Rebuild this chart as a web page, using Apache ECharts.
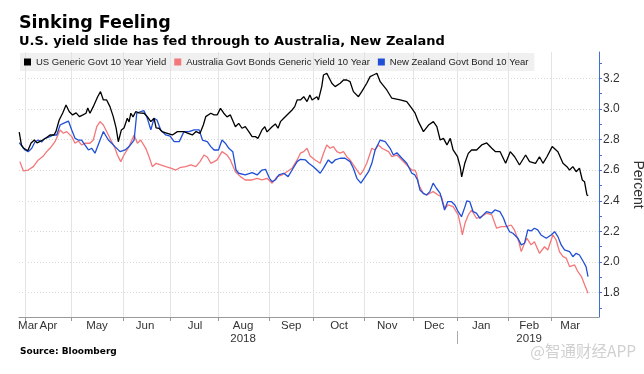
<!DOCTYPE html>
<html><head><meta charset="utf-8">
<script src="https://cdn.jsdelivr.net/npm/echarts@6/dist/echarts.min.js"></script>
<style>html,body{margin:0;padding:0;background:#fff}#c{width:644px;height:374px}</style>
</head><body><div id="c"></div>
<script>
// x positions are business-day indices (0 = Mon 2 Apr 2018)
const monthStarts = [0, 21, 44.4, 65.8, 87.6, 110.8, 130.9, 154.1, 176.4, 196.5, 219.5, 239.3];
const monthLabelPos = [1.1, 10.4, 32.5, 54.4, 77.1, 99, 120.9, 142.7, 164.6, 186, 207.4, 229.2, 247.9];
const monthNames = ['Mar','Apr','May','Jun','Jul','Aug','Sep','Oct','Nov','Dec','Jan','Feb','Mar'];
const yearLabelPos = [99, 229.2];
const yearNames = ['2018', '2019'];
const yearBreak = [196.5];
const yLabels = [1.8, 2.0, 2.2, 2.4, 2.6, 2.8, 3.0, 3.2];
const yTicks = [1.7, 1.8, 1.9, 2.0, 2.1, 2.2, 2.3, 2.4, 2.5, 2.6, 2.7, 2.8, 2.9, 3.0, 3.1, 3.2, 3.3];

const seriesNames = ['US Generic Govt 10 Year Yield', 'Australia Govt Bonds Generic Yield 10 Year', 'New Zealand Govt Bond 10 Year'];

const usDay = [-2.9,-1.9,-1.0,1.0,2.5,4.0,5.2,7.0,9.3,11.1,12.9,13.8,15.3,16.9,18.4,19.9,21.4,23.0,24.5,26.1,27.5,28.3,29.3,30.8,32.8,34.1,35.4,36.9,38.4,39.9,41.2,42.2,43.6,44.8,46.3,47.1,47.9,48.9,50.1,51.6,53.9,55.4,57.0,58.5,59.4,60.7,62.1,64.5,66.8,69.1,72.1,74.0,75.9,77.6,79.4,80.9,82.0,84.3,85.8,87.2,88.7,90.2,91.7,93.2,95.5,97.0,98.5,100.0,101.6,103.1,104.6,105.8,107.6,108.9,109.9,112.2,113.7,114.9,116.0,117.5,119.8,121.3,122.5,123.6,125.1,126.6,128.1,129.4,130.4,132.6,133.3,134.8,135.6,137.1,139.4,140.9,143.2,144.7,146.2,147.7,149.2,151.5,153.0,155.3,156.8,158.3,159.9,161.4,164.4,166.7,170.5,173.5,175.8,177.3,178.8,181.1,183.4,185.6,187.2,188.7,190.2,191.8,193.3,194.6,196.6,197.8,198.5,199.9,201.5,203.0,203.9,205.3,207.6,209.9,212.2,213.9,216.0,218.5,220.6,222.6,224.8,227.6,229.4,232.1,233.9,235.5,237.3,239.7,242.3,244.6,246.4,247.6,249.1,250.6,252.1,253.4,254.4,255.5,256.1];
const usYield = [2.848,2.765,2.745,2.727,2.778,2.797,2.778,2.791,2.810,2.830,2.830,2.852,2.928,2.974,3.026,2.982,2.961,2.974,2.950,2.961,2.972,3.006,2.972,3.015,3.080,3.113,3.059,3.059,3.015,2.950,2.876,2.786,2.863,2.876,2.939,2.915,2.972,2.948,2.982,2.974,2.972,2.950,2.917,2.939,2.876,2.874,2.852,2.841,2.830,2.852,2.852,2.841,2.830,2.852,2.841,2.895,2.950,2.972,2.961,2.961,3.004,2.972,2.948,2.961,2.884,2.906,2.874,2.884,2.852,2.819,2.819,2.808,2.863,2.884,2.850,2.884,2.902,2.874,2.917,2.939,2.972,2.993,3.015,3.059,3.059,3.080,3.048,3.091,3.059,3.080,3.059,3.146,3.222,3.233,3.168,3.146,3.168,3.189,3.189,3.178,3.113,3.080,3.113,3.168,3.211,3.222,3.233,3.178,3.124,3.070,3.059,3.048,3.004,2.972,2.917,2.852,2.895,2.917,2.884,2.797,2.808,2.765,2.808,2.732,2.688,2.623,2.556,2.645,2.710,2.732,2.721,2.732,2.765,2.778,2.743,2.721,2.721,2.645,2.721,2.688,2.634,2.699,2.656,2.645,2.688,2.645,2.688,2.754,2.721,2.645,2.623,2.601,2.623,2.590,2.613,2.536,2.525,2.438,2.434];

const auDay = [-2.6,-1.0,1.2,3.5,5.8,8.1,9.6,11.1,13.4,15.7,17.2,18.7,21.0,22.5,24.0,25.5,27.0,29.3,30.8,32.4,33.9,35.4,37.7,39.2,40.7,41.8,43.3,44.8,47.1,49.4,50.9,52.4,54.7,56.2,57.7,59.4,61.5,63.8,66.1,68.4,70.6,72.9,75.2,77.5,79.4,81.2,82.7,84.3,85.8,87.2,89.4,91.7,93.2,95.5,97.8,100.0,103.1,105.4,107.6,109.9,112.2,114.5,116.8,119.0,121.3,123.6,125.1,126.6,128.1,129.5,131.8,134.1,135.6,137.1,138.6,140.1,141.7,143.2,144.7,146.2,147.7,149.2,152.3,153.8,155.3,157.6,159.1,160.6,162.2,165.2,166.7,169.0,171.3,173.5,175.8,177.2,177.9,179.0,181.0,182.5,185.5,187.8,189.3,190.8,192.3,194.6,196.9,198.1,198.8,200.0,201.5,203.0,205.2,207.5,209.8,212.2,214.4,216.6,218.7,221.0,222.5,224.5,225.6,227.1,228.2,230.1,231.6,233.9,236.2,237.7,240.0,241.5,243.0,244.6,246.1,247.6,249.9,251.4,253.0,254.5,256.0];
const auYield = [2.656,2.595,2.601,2.623,2.667,2.693,2.721,2.743,2.786,2.863,2.841,2.852,2.819,2.776,2.791,2.765,2.776,2.776,2.797,2.884,2.917,2.895,2.830,2.786,2.743,2.699,2.656,2.699,2.754,2.830,2.776,2.797,2.743,2.688,2.623,2.645,2.634,2.623,2.613,2.601,2.619,2.623,2.634,2.623,2.656,2.699,2.686,2.645,2.656,2.667,2.721,2.699,2.667,2.590,2.558,2.536,2.536,2.547,2.536,2.547,2.515,2.558,2.569,2.590,2.613,2.667,2.711,2.721,2.743,2.693,2.667,2.645,2.711,2.765,2.743,2.754,2.721,2.711,2.721,2.688,2.667,2.634,2.569,2.601,2.645,2.743,2.732,2.765,2.743,2.721,2.688,2.699,2.667,2.634,2.601,2.601,2.580,2.503,2.449,2.438,2.460,2.438,2.427,2.347,2.373,2.362,2.308,2.231,2.177,2.253,2.308,2.340,2.286,2.296,2.319,2.308,2.221,2.231,2.231,2.242,2.210,2.133,2.068,2.123,2.155,2.112,2.133,2.057,2.100,2.079,2.177,2.144,2.068,2.035,2.025,1.970,1.981,1.937,1.905,1.850,1.796];

const nzDay = [-2.9,-0.3,1.2,2.8,4.3,5.8,7.3,8.8,11.1,12.6,14.2,15.7,17.2,19.5,21.0,22.5,24.0,25.5,27.0,28.6,30.1,31.6,33.9,35.4,37.7,39.2,40.7,43.0,45.3,47.1,49.4,50.6,52.4,53.9,55.4,57.0,58.5,59.8,61.5,63.8,65.8,67.6,69.9,72.1,74.4,76.7,79.0,80.5,82.7,84.3,85.8,87.8,89.4,90.9,92.5,94.3,95.8,97.0,100.0,103.1,105.4,107.6,109.2,111.0,112.2,113.7,115.3,117.5,119.5,121.3,123.6,125.1,127.4,128.9,131.0,132.6,134.1,135.6,137.8,139.4,140.9,143.2,145.4,147.7,149.2,150.8,152.6,154.6,156.1,157.6,159.1,161.4,163.7,165.9,167.4,169.0,171.3,173.5,175.8,177.2,178.4,179.5,181.0,182.5,184.0,185.5,187.0,188.7,190.7,192.1,193.9,195.4,196.9,198.4,200.0,200.8,202.2,203.7,205.2,206.8,208.3,209.8,212.1,213.6,215.9,217.5,218.7,220.3,221.8,224.1,225.6,227.1,228.6,230.1,231.6,233.1,234.6,237.0,239.2,240.8,242.3,243.8,245.3,247.6,249.1,250.6,252.1,253.9,255.1,256.0];
const nzYield = [2.780,2.732,2.721,2.743,2.786,2.797,2.784,2.808,2.819,2.830,2.830,2.895,2.906,2.921,2.863,2.808,2.797,2.797,2.765,2.732,2.743,2.711,2.797,2.852,2.797,2.776,2.754,2.721,2.732,2.754,2.797,2.972,2.982,2.989,2.939,2.863,2.939,2.928,2.863,2.830,2.823,2.786,2.786,2.852,2.852,2.863,2.863,2.797,2.786,2.754,2.732,2.732,2.797,2.776,2.743,2.721,2.601,2.580,2.569,2.584,2.569,2.601,2.606,2.547,2.525,2.536,2.569,2.580,2.558,2.601,2.656,2.671,2.667,2.645,2.623,2.601,2.580,2.613,2.667,2.645,2.667,2.678,2.678,2.656,2.613,2.547,2.515,2.558,2.590,2.645,2.732,2.797,2.786,2.743,2.699,2.714,2.678,2.645,2.580,2.569,2.536,2.471,2.449,2.438,2.460,2.515,2.482,2.449,2.340,2.394,2.394,2.373,2.329,2.296,2.362,2.399,2.394,2.329,2.319,2.286,2.308,2.329,2.319,2.340,2.329,2.288,2.242,2.198,2.188,2.155,2.112,2.123,2.210,2.203,2.221,2.210,2.177,2.155,2.177,2.198,2.166,2.112,2.079,2.068,2.035,2.057,2.046,2.002,1.970,1.905];

const zip = (xs, ys) => xs.map((x, i) => [x, ys[i]]);
const SANS = "'Liberation Sans',sans-serif";
const BOLD = "'DejaVu Sans',sans-serif";
const X_MIN = -3, X_MAX = 261;
const Y_MIN = 1.641, Y_MAX = 3.372;
const nearestLabel = (v, pos, names) => {
  let best = 0;
  pos.forEach((p, i) => { if (Math.abs(p - v) < Math.abs(pos[best] - v)) best = i; });
  return names[best];
};

const chart = echarts.init(document.getElementById('c'), null, {renderer: 'canvas'});
chart.setOption({
  animation: false,
  backgroundColor: '#fff',
  title: [
    {text: 'Sinking Feeling', left: 19, top: 14, padding: 0,
     textStyle: {fontFamily: BOLD, fontWeight: 'bold', fontSize: 17.5, color: '#000'}},
    {text: 'U.S. yield slide has fed through to Australia, New Zealand', left: 19, top: 35, padding: 0,
     textStyle: {fontFamily: BOLD, fontWeight: 'bold', fontSize: 13, color: '#000'}}
  ],
  legend: {
    data: seriesNames, left: 20, top: 53, padding: [4, 6, 4, 4],
    icon: 'rect', itemWidth: 7, itemHeight: 7, itemGap: 8,
    backgroundColor: 'rgba(225,225,225,0.5)',
    textStyle: {fontFamily: SANS, fontSize: 9.5, color: '#222'}
  },
  grid: {left: 19, right: 45, top: 52, bottom: 57, containLabel: false, outerBoundsMode: 'none'},
  xAxis: [
    {type: 'value', min: X_MIN, max: X_MAX, position: 'bottom',
     axisLine: {show: true, onZero: false, lineStyle: {color: '#999', width: 1}},
     axisTick: {show: true, customValues: monthStarts, length: 4, lineStyle: {color: '#999'}},
     axisLabel: {customValues: monthLabelPos, margin: 3, fontFamily: SANS, fontSize: 11.5, color: '#333',
       formatter: v => nearestLabel(v, monthLabelPos, monthNames)},
     splitLine: {show: true, lineStyle: {color: '#e4e4e4', type: 'solid', width: 1}}},
    {type: 'value', min: X_MIN, max: X_MAX, position: 'bottom', offset: 14,
     axisLine: {show: false, onZero: false},
     axisTick: {show: true, customValues: yearBreak, length: 13, lineStyle: {color: '#aaa'}},
     axisLabel: {customValues: yearLabelPos, margin: 2, fontFamily: SANS, fontSize: 11.5, color: '#333',
       formatter: v => nearestLabel(v, yearLabelPos, yearNames)},
     splitLine: {show: false}}
  ],
  yAxis: [
    {type: 'value', position: 'right', min: Y_MIN, max: Y_MAX,
     axisLine: {show: true, onZero: false, lineStyle: {color: '#3f6fd8', width: 1}},
     axisTick: {show: true, customValues: yTicks, length: 3, lineStyle: {color: '#3f6fd8'}},
     axisLabel: {customValues: yLabels, margin: 4, fontFamily: SANS, fontSize: 12, color: '#333',
       formatter: v => v.toFixed(1)},
     splitLine: {show: false},
     name: 'Percent', nameLocation: 'middle', nameRotate: -90, nameGap: 25,
     nameTextStyle: {fontFamily: SANS, fontSize: 14, color: '#333'}},
    {type: 'value', position: 'right', min: Y_MIN, max: Y_MAX,
     axisLine: {show: false, onZero: false},
     axisTick: {show: false, customValues: yLabels},
     axisLabel: {show: false},
     splitLine: {show: true, lineStyle: {color: '#d8d8d8', type: [1, 2], width: 1}}}
  ],
  series: [
    {name: seriesNames[1], type: 'line', showSymbol: false, data: zip(auDay, auYield),
     lineStyle: {color: '#f47779', width: 1.3}, itemStyle: {color: '#f47779'}, z: 2},
    {name: seriesNames[2], type: 'line', showSymbol: false, data: zip(nzDay, nzYield),
     lineStyle: {color: '#1f4fd6', width: 1.3}, itemStyle: {color: '#1f4fd6'}, z: 3},
    {name: seriesNames[0], type: 'line', showSymbol: false, data: zip(usDay, usYield),
     lineStyle: {color: '#000', width: 1.3}, itemStyle: {color: '#000'}, z: 4}
  ],
  graphic: [
    {type: 'text', left: 20, top: 347,
     style: {text: 'Source: Bloomberg', font: "bold 9px 'DejaVu Sans'", fill: '#000'}},
    {type: 'text', right: 8, top: 343,
     style: {text: '@智通财经APP', font: "15.5px 'Noto Sans CJK SC'", fill: '#d0d0d0'}}
  ]
});
</script></body></html>
